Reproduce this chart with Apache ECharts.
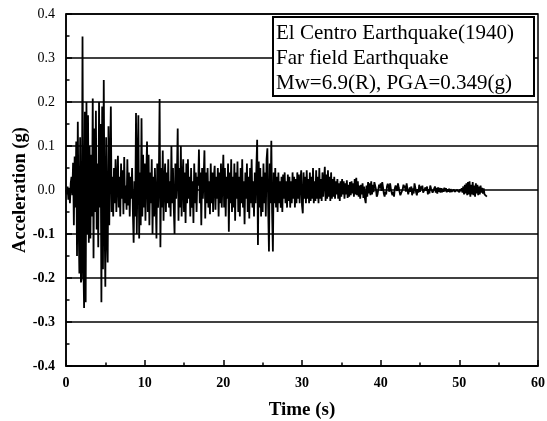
<!DOCTYPE html>
<html>
<head>
<meta charset="utf-8">
<script src="https://cdn.jsdelivr.net/npm/echarts@6/dist/echarts.min.js"></script>
<style>
  html, body { margin: 0; padding: 0; background: #fff; }
  #chart { width: 547px; height: 421px; }
</style>
</head>
<body>
<div id="chart"></div>
<script>
// El Centro (1940) ground acceleration record, sampled every 0.1 s (values in g)
const DT = 0.1;
const accel = [
  0.000, -0.010, 0.008, -0.022, 0.005, -0.030, 0.015, 0.030, -0.012, 0.062,
  -0.080, 0.076, -0.040, 0.110, -0.150, 0.155, -0.060, -0.190, 0.120, -0.210,
  -0.200, 0.349, -0.150, -0.268, 0.178, -0.255, 0.200, -0.100, 0.170, -0.120,
  0.100, -0.110, 0.080, -0.060, 0.208, -0.155, 0.140, -0.050, 0.180, -0.090,
  0.060, -0.130, 0.200, -0.040, 0.150, -0.255, 0.190, -0.180, 0.250, -0.060,
  -0.220, 0.120, -0.100, -0.165, 0.145, -0.080, 0.060, 0.190, -0.050, 0.030,
  -0.060, 0.050, -0.030, 0.070, -0.050, 0.020, 0.078, -0.040, 0.030, -0.060,
  0.060, -0.020, 0.045, -0.055, 0.075, -0.030, 0.010, -0.045, 0.070, -0.035,
  0.040, -0.060, 0.030, -0.020, 0.050, -0.050, -0.120, 0.020, -0.060, 0.175,
  -0.100, 0.060, 0.170, -0.110, 0.040, -0.080, 0.163, -0.060, 0.080, -0.040,
  0.060, -0.070, 0.030, 0.110, -0.050, 0.080, -0.080, 0.040, -0.030, 0.070,
  -0.100, 0.030, -0.060, 0.050, -0.020, -0.110, 0.060, -0.040, 0.020, 0.207,
  -0.130, 0.050, -0.040, 0.090, -0.070, 0.020, 0.060, -0.050, 0.040, -0.030,
  0.070, -0.040, 0.020, -0.060, 0.100, -0.030, 0.050, -0.040, -0.100, 0.060,
  -0.020, 0.030, 0.140, -0.070, 0.050, -0.040, 0.100, -0.060, 0.020, 0.070,
  -0.050, 0.040, -0.075, 0.060, -0.030, 0.070, -0.020, 0.030, -0.060, 0.050,
  -0.040, 0.020, -0.075, 0.060, -0.030, 0.040, -0.050, 0.030, 0.010, 0.092,
  -0.030, 0.040, -0.080, 0.050, -0.020, 0.030, 0.090, -0.065, 0.040, -0.030,
  0.050, -0.040, 0.020, -0.055, 0.060, -0.030, 0.040, -0.050, 0.030, 0.055,
  -0.045, 0.030, -0.020, 0.050, -0.060, 0.040, -0.030, 0.060, -0.040, 0.020,
  0.080, -0.040, 0.050, -0.060, 0.030, -0.020, 0.060, -0.095, 0.040, -0.030,
  0.070, -0.050, 0.030, -0.040, 0.060, -0.070, 0.040, -0.020, 0.065, -0.050,
  0.030, -0.060, 0.050, -0.030, 0.070, -0.040, 0.020, -0.078, 0.040, -0.020,
  0.060, -0.050, 0.030, -0.065, 0.050, -0.030, 0.070, -0.040, 0.020, -0.060,
  0.040, -0.030, 0.050, 0.114, -0.125, 0.065, -0.040, 0.050, -0.060, 0.030,
  -0.050, 0.060, -0.030, 0.040, -0.060, 0.070, 0.095, -0.040, -0.140, 0.060,
  -0.030, 0.112, -0.050, -0.140, 0.040, -0.030, 0.050, -0.040, 0.030, -0.050,
  0.040, -0.030, 0.020, -0.040, 0.030, -0.050, 0.035, -0.020, 0.040, -0.030,
  0.020, -0.040, 0.035, -0.025, 0.030, -0.040, 0.020, -0.030, 0.040, -0.020,
  0.030, -0.040, 0.025, -0.030, 0.040, -0.020, 0.035, -0.030, 0.020, 0.045,
  -0.035, -0.053, 0.040, -0.020, 0.030, -0.030, 0.045, -0.020, 0.025, -0.030,
  0.040, -0.025, 0.030, -0.020, 0.050, -0.030, 0.020, -0.025, 0.045, -0.020,
  0.030, -0.030, 0.050, -0.020, 0.025, -0.025, 0.040, -0.015, 0.020, 0.053,
  -0.025, 0.035, -0.020, 0.045, -0.015, 0.030, -0.025, 0.040, -0.020, 0.025,
  -0.015, 0.030, -0.020, 0.020, -0.010, 0.025, -0.020, 0.015, -0.025, 0.020,
  -0.015, 0.025, -0.010, 0.020, -0.020, 0.015, -0.010, 0.022, -0.018, 0.012,
  -0.015, 0.018, -0.012, 0.020, -0.008, 0.015, -0.015, 0.025, -0.010, 0.028,
  -0.012, 0.020, -0.015, 0.010, -0.020, 0.012, -0.010, 0.015, -0.018, 0.008,
  -0.020, -0.030, 0.010, -0.015, 0.018, -0.008, 0.015, -0.012, 0.020, -0.010,
  0.012, -0.005, 0.018, 0.010, 0.002, -0.015, -0.010, -0.008, 0.012, 0.004,
  0.015, -0.002, 0.018, 0.006, -0.008, -0.015, -0.004, -0.010, 0.008, 0.014,
  0.008, -0.004, 0.015, 0.002, -0.006, -0.012, -0.004, -0.015, 0.004, 0.010,
  0.012, -0.002, 0.015, 0.005, -0.004, -0.012, -0.008, -0.015, 0.002, 0.012,
  0.004, 0.010, -0.004, 0.015, 0.002, -0.010, -0.012, 0.006, -0.004, 0.008,
  -0.012, 0.004, -0.008, 0.015, 0.006, -0.005, -0.012, 0.002, -0.006, 0.012,
  -0.004, 0.008, 0.002, 0.010, -0.006, -0.008, -0.010, 0.006, -0.002, 0.008,
  -0.010, 0.002, -0.008, 0.010, 0.004, 0.008, -0.006, -0.010, -0.004, 0.008,
  -0.006, 0.005, -0.008, 0.006, -0.004, 0.005, -0.006, 0.004, -0.005, 0.003,
  -0.004, 0.005, -0.003, 0.004, -0.005, 0.002, -0.004, 0.003, -0.005, 0.002,
  -0.004, -0.002, -0.005, 0.001, -0.004, -0.002, -0.006, 0.000, -0.004, -0.002,
  -0.005, 0.002, -0.003, 0.004, -0.006, 0.008, -0.010, 0.012, -0.008, 0.015,
  -0.012, 0.018, -0.010, 0.020, -0.015, 0.012, -0.010, 0.018, -0.012, 0.010,
  -0.015, 0.015, -0.008, 0.012, -0.012, 0.008, -0.010, 0.010, -0.006, 0.005,
  -0.008, 0.004, -0.010, -0.006, -0.012, -0.015
];

// Legend box text lines
const infoLines = [
  'El Centro Earthquake(1940)',
  'Far field Earthquake',
  'Mw=6.9(R), PGA=0.349(g)'
];

const xTicks = { min: 0, max: 60, interval: 10 };
const yTicks = { min: -0.4, max: 0.4, interval: 0.1 };

const SERIF = '"Liberation Serif", "Times New Roman", serif';
const series = accel.map((v, i) => [+(i * DT).toFixed(2), v]);

const chart = echarts.init(document.getElementById('chart'), null, { renderer: 'canvas' });

chart.setOption({
  animation: false,
  backgroundColor: '#fff',
  grid: {
    left: 66, right: 9, top: 14, bottom: 55,
    containLabel: false,
    outerBoundsMode: 'none',
    show: true, borderColor: '#000', borderWidth: 1.5, backgroundColor: 'transparent'
  },
  xAxis: {
    type: 'value',
    min: xTicks.min, max: xTicks.max, interval: xTicks.interval,
    name: 'Time (s)',
    nameLocation: 'middle',
    nameGap: 35,
    nameMoveOverlap: false,
    nameTextStyle: { fontFamily: SERIF, fontWeight: 'bold', fontSize: 19, color: '#000' },
    axisLine: { onZero: false, lineStyle: { color: '#000', width: 1.5 } },
    axisTick: { inside: true, length: 6, lineStyle: { color: '#000', width: 1.5 } },
    minorTick: { show: true, splitNumber: 2, length: 3.5, lineStyle: { color: '#000', width: 1.5 } },
    axisLabel: { fontFamily: SERIF, fontWeight: 'bold', fontSize: 14, color: '#000', margin: 10 },
    splitLine: { show: false }
  },
  yAxis: {
    type: 'value',
    min: yTicks.min, max: yTicks.max, interval: yTicks.interval,
    name: 'Acceleration (g)',
    nameLocation: 'middle',
    nameGap: 36,
    nameMoveOverlap: false,
    nameTextStyle: { fontFamily: SERIF, fontWeight: 'bold', fontSize: 18.5, color: '#000' },
    axisLine: { lineStyle: { color: '#000', width: 1.5 } },
    axisTick: { inside: true, length: 6, lineStyle: { color: '#000', width: 1.5 } },
    minorTick: { show: true, splitNumber: 2, length: 3.5, lineStyle: { color: '#000', width: 1.5 } },
    axisLabel: {
      margin: 11,
      formatter: v => {
        const s = v.toFixed(1);
        return v < -1e-9 ? '{n|' + s + '}' : '{p|' + s + '}';
      },
      rich: {
        p: { fontFamily: SERIF, fontSize: 14, color: '#000' },
        n: { fontFamily: SERIF, fontSize: 14, fontWeight: 'bold', color: '#000' }
      }
    },
    splitLine: { show: true, lineStyle: { color: '#000', width: 1.5 } }
  },
  series: [{
    type: 'line',
    data: series,
    showSymbol: false,
    symbol: 'none',
    lineStyle: { color: '#000', width: 1.8 },
    z: 5
  }],
  graphic: [
    {
      type: 'rect',
      left: 272, top: 16, z: 10,
      shape: { x: 0, y: 0, width: 261, height: 79 },
      style: { fill: '#fff', stroke: '#000', lineWidth: 2 }
    },
    ...infoLines.map((t, i) => ({
      type: 'text',
      x: 276,
      y: 33 + i * 25,
      z: 11,
      style: {
        text: t, fontFamily: SERIF, fontSize: 21, fill: '#000',
        verticalAlign: 'middle', align: 'left'
      }
    }))
  ]
});
</script>
</body>
</html>
